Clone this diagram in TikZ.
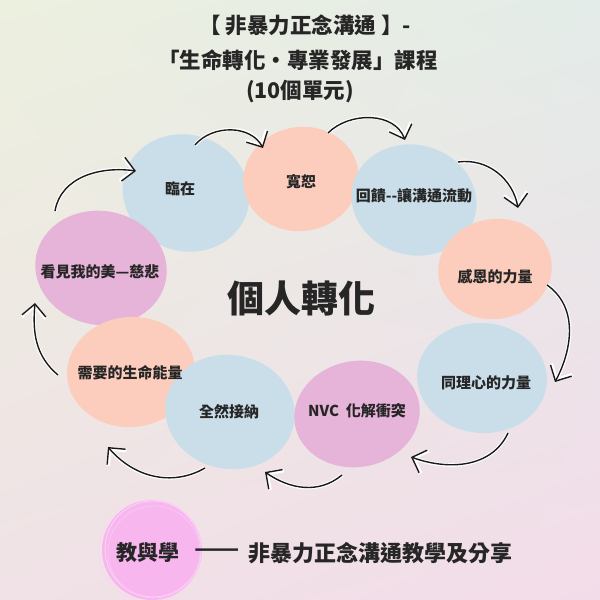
\documentclass[tikz,border=0pt]{standalone}
\usepackage{fontspec}
\newfontfamily\cjk{Noto Sans CJK TC}
\usetikzlibrary{arrows.meta,shadings}
\definecolor{bblue}{HTML}{C9DEE9}
\definecolor{bsalmon}{HTML}{FCCDBD}
\definecolor{bpink}{HTML}{E6B3D9}
\definecolor{cpink}{HTML}{F8B6EF}
\definecolor{cpinklt}{HTML}{FBD3F6}
\definecolor{tcol}{HTML}{262626}
\definecolor{bgTL}{HTML}{ECF0DF}
\definecolor{bgTR}{HTML}{E3ECE8}
\definecolor{bgBL}{HTML}{F0E2E6}
\definecolor{bgBR}{HTML}{F3DCE9}
\begin{document}
\begin{tikzpicture}[x=1pt,y=1pt,
  lbl/.style={font=\cjk\bfseries\fontsize{15}{17}\selectfont, text=tcol, inner sep=0pt},
  ttl/.style={font=\cjk\bfseries\fontsize{21.5}{25}\selectfont, text=tcol, inner sep=0pt},
  big/.style={font=\cjk\bfseries\fontsize{37}{40}\selectfont, text=tcol, inner sep=0pt},
  btm/.style={font=\cjk\bfseries\fontsize{21}{25}\selectfont, text=tcol, inner sep=0pt},
  btmr/.style={font=\cjk\bfseries\fontsize{22}{25}\selectfont, text=tcol, inner sep=0pt},
  cyc/.style={line width=1.4pt, draw=black!90,
    -{Straight Barb[length=12pt,width=24pt]},
    preaction={draw=white, line width=3.6pt, -{Straight Barb[length=12pt,width=24pt]}}}
]
\useasboundingbox (0,0) rectangle (600,600);
\shade[upper left=bgTL, upper right=bgTR, lower left=bgBL, lower right=bgBR] (0,0) rectangle (600,600);

% title
\node[ttl] (t1) at (305,575) {【 非暴力正念溝通 】-};
\node[ttl] (t2) at (298,540) {「生命轉化・專業發展」課程};
\node[ttl] (t3) at (300,508) {(10個單元)};

% blobs
\fill[bblue, rotate around={-20:(186,407)}] (186,407) ellipse[x radius=64, y radius=58];
\fill[bsalmon, rotate around={10:(301,421)}] (301,421) ellipse[x radius=58, y radius=52];
\fill[bblue, rotate around={-15:(414,400)}] (414,400) ellipse[x radius=63, y radius=55];
\fill[bsalmon, rotate around={10:(495,331)}] (495,331) ellipse[x radius=57, y radius=50];
\fill[bblue, rotate around={-5:(482,222)}] (482,222) ellipse[x radius=65, y radius=55];
\fill[bpink, rotate around={-10:(101,332)}] (101,332) ellipse[x radius=66, y radius=57];
\fill[bsalmon, rotate around={5:(131,228)}] (131,228) ellipse[x radius=64, y radius=55];
\fill[bblue, rotate around={-10:(230,188)}] (230,188) ellipse[x radius=65, y radius=57];
\fill[bpink, rotate around={10:(357,186)}] (357,186) ellipse[x radius=63, y radius=53];

% labels
\node[lbl] (n1) at (180,411) {臨在};
\node[lbl] (n2) at (301,418) {寬恕};
\node[lbl] (n3) at (414,404) {回饋--讓溝通流動};
\node[lbl] (n4) at (495,323) {感恩的力量};
\node[lbl] (n5) at (486,217) {同理心的力量};
\node[lbl] (n6) at (357,189) {NVC\ \ 化解衝突};
\node[lbl] (n7) at (229,188) {全然接納};
\node[lbl] (n8) at (130,227) {需要的生命能量};
\node[lbl] (n9) at (100,328) {看見我的美—慈悲};
\node[big] (c) at (301,301) {個人轉化};

% arrows
\coordinate (a1s) at (55,389); \coordinate (a1e) at (136,429);
\coordinate (a2s) at (195,455); \coordinate (a2e) at (263,452);
\coordinate (a3s) at (328,467); \coordinate (a3e) at (405,460);
\coordinate (a4s) at (458,438); \coordinate (a4e) at (518,392);
\coordinate (a5s) at (547,315); \coordinate (a5e) at (555,218);
\coordinate (a6s) at (508,167); \coordinate (a6e) at (411,143);
\coordinate (a7s) at (342,125); \coordinate (a7e) at (265,128);
\coordinate (a8s) at (205,132); \coordinate (a8e) at (108,153);
\coordinate (a9s) at (58,225); \coordinate (a9e) at (35,297);
\draw[cyc] (a1s) to[out=80,in=172] (a1e);
\draw[cyc] (a2s) to[out=50,in=118] (a2e);
\draw[cyc] (a3s) to[out=45,in=110] (a3e);
\draw[cyc] (a4s) to[out=8,in=100] (a4e);
\draw[cyc] (a5s) to[out=-35,in=62] (a5e);
\draw[cyc] (a6s) to[out=-115,in=-20] (a6e);
\draw[cyc] (a7s) to[out=-140,in=-35] (a7e);
\draw[cyc] (a8s) to[out=-150,in=-50] (a8e);
\draw[cyc] (a9s) to[out=140,in=-95] (a9e);

% bottom
\fill[cpink] (152,50) circle[radius=50];
\draw[cpinklt, line width=0.8pt] (153,51) circle[radius=48];
\draw[cpinklt, line width=0.6pt] (150,49) circle[radius=51];
\draw[cpinklt!70!cpink, line width=0.6pt] (154,48) circle[radius=46];
\node[btm] (b1) at (148,47) {教與學};
\node[btmr, anchor=west] (b2) at (194,47) {\scalebox{1.2}[1]{——}};
\node[btmr, anchor=west] (b3) at (248,47) {非暴力正念溝通教學及分享};
\end{tikzpicture}
\end{document}
